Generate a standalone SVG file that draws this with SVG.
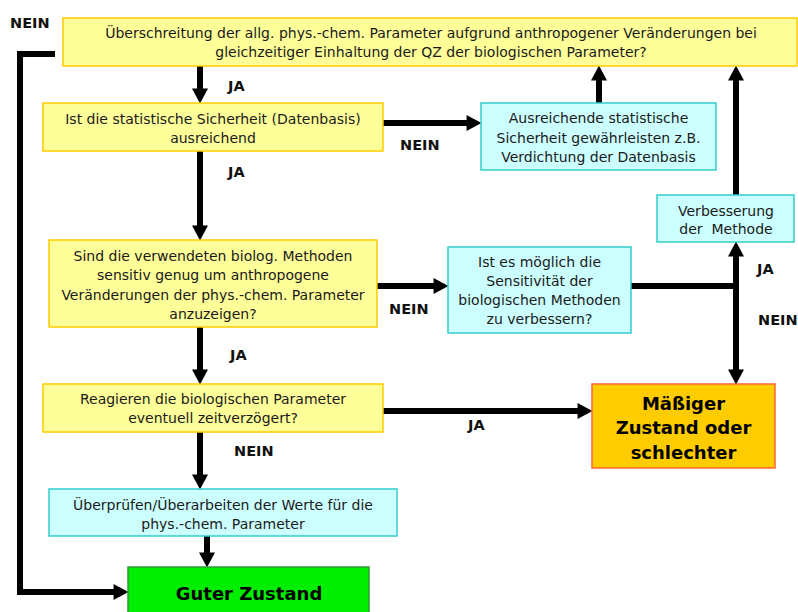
<svg xmlns="http://www.w3.org/2000/svg" width="798" height="612" viewBox="0 0 798 612">
<style>
.y{fill:#FFFF99;stroke:#FFCC00;stroke-width:1.5}
.c{fill:#CCFFFF;stroke:#33CCCC;stroke-width:1.5}
.o{fill:#FFCC00;stroke:#FF6633;stroke-width:1.5}
.g{fill:#00EE00;stroke:#339933;stroke-width:1.5}
.t{font-family:"DejaVu Sans",sans-serif;font-size:14px;fill:#1a1a1a;text-anchor:middle}
.b{font-family:"DejaVu Sans",sans-serif;font-weight:bold;font-size:18px;fill:#000;text-anchor:middle}
.l{font-family:"DejaVu Sans",sans-serif;font-weight:bold;font-size:14.5px;fill:#111}
.w{fill:none;stroke:#000;stroke-width:6}
</style>
<defs>
<marker id="ah" markerUnits="userSpaceOnUse" markerWidth="16" markerHeight="16" viewBox="0 0 14 15" refX="7" refY="7.5" orient="auto">
<path d="M0,0 L14,7.5 L0,15 z" fill="#000"/>
</marker>
</defs>
<rect width="798" height="612" fill="#fff"/>
<g id="connectors">
<line class="w" x1="200" y1="66" x2="200" y2="96" marker-end="url(#ah)"/>
<line class="w" x1="200" y1="151" x2="200" y2="233" marker-end="url(#ah)"/>
<line class="w" x1="200" y1="327" x2="200" y2="377" marker-end="url(#ah)"/>
<line class="w" x1="200" y1="432" x2="200" y2="482" marker-end="url(#ah)"/>
<line class="w" x1="207" y1="536" x2="207" y2="560" marker-end="url(#ah)"/>
<line class="w" x1="383" y1="123" x2="474" y2="123" marker-end="url(#ah)"/>
<line class="w" x1="599" y1="103" x2="599" y2="73" marker-end="url(#ah)"/>
<line class="w" x1="736" y1="195" x2="736" y2="73" marker-end="url(#ah)"/>
<line class="w" x1="377" y1="286" x2="441" y2="286" marker-end="url(#ah)"/>
<polyline class="w" points="631,286 736,286"/>
<line class="w" x1="736" y1="289" x2="736" y2="249" marker-end="url(#ah)"/>
<line class="w" x1="736" y1="283" x2="736" y2="377" marker-end="url(#ah)"/>
<line class="w" x1="383" y1="411" x2="585" y2="411" marker-end="url(#ah)"/>
<polyline class="w" points="55,54 20,54 20,592 121,592" marker-end="url(#ah)"/>
<text class="l" x="10" y="28">NEIN</text>
<text class="l" x="228" y="91">JA</text>
<text class="l" x="400" y="150">NEIN</text>
<text class="l" x="228" y="177">JA</text>
<text class="l" x="389" y="314">NEIN</text>
<text class="l" x="757" y="274">JA</text>
<text class="l" x="758" y="325">NEIN</text>
<text class="l" x="230" y="360">JA</text>
<text class="l" x="468" y="430">JA</text>
<text class="l" x="234" y="456">NEIN</text>
</g>
<g id="n1">
<rect class="y" x="63" y="18" width="734" height="48"/>
<text class="t" x="431" y="38">Überschreitung der allg. phys.-chem. Parameter aufgrund anthropogener Veränderungen bei</text>
<text class="t" x="431" y="57">gleichzeitiger Einhaltung der QZ der biologischen Parameter?</text>
</g>
<g id="n2">
<rect class="y" x="43" y="103" width="340" height="48"/>
<text class="t" x="213" y="124">Ist die statistische Sicherheit (Datenbasis)</text>
<text class="t" x="213" y="143">ausreichend</text>
</g>
<g id="n3">
<rect class="c" x="481" y="103" width="235" height="67"/>
<text class="t" x="598.5" y="123">Ausreichende statistische</text>
<text class="t" x="598.5" y="142.5">Sicherheit gewährleisten z.B.</text>
<text class="t" x="598.5" y="162">Verdichtung der Datenbasis</text>
</g>
<g id="n4">
<rect class="c" x="657" y="195" width="137" height="47"/>
<text class="t" x="726" y="216">Verbesserung</text>
<text class="t" x="726" y="234">der&#160; Methode</text>
</g>
<g id="n5">
<rect class="y" x="49" y="240" width="328" height="87"/>
<text class="t" x="213" y="261">Sind die verwendeten biolog. Methoden</text>
<text class="t" x="213" y="280">sensitiv genug um anthropogene</text>
<text class="t" x="213" y="299.5">Veränderungen der phys.-chem. Parameter</text>
<text class="t" x="213" y="319">anzuzeigen?</text>
</g>
<g id="n6">
<rect class="c" x="448" y="247" width="183" height="86"/>
<text class="t" x="539.5" y="267">Ist es möglich die</text>
<text class="t" x="539.5" y="286">Sensitivität der</text>
<text class="t" x="539.5" y="305">biologischen Methoden</text>
<text class="t" x="539.5" y="324">zu verbessern?</text>
</g>
<g id="n7">
<rect class="y" x="43" y="384" width="340" height="48"/>
<text class="t" x="213" y="404">Reagieren die biologischen Parameter</text>
<text class="t" x="213" y="423">eventuell zeitverzögert?</text>
</g>
<g id="n8">
<rect class="o" x="592" y="384" width="183" height="84"/>
<text class="b" x="683.5" y="409.5">Mäßiger</text>
<text class="b" x="683.5" y="434">Zustand oder</text>
<text class="b" x="683.5" y="458.5">schlechter</text>
</g>
<g id="n9">
<rect class="c" x="49" y="489" width="348" height="47"/>
<text class="t" x="223" y="510">Überprüfen/Überarbeiten der Werte für die</text>
<text class="t" x="223" y="529">phys.-chem. Parameter</text>
</g>
<g id="n10">
<rect class="g" x="128" y="567" width="241" height="50"/>
<text class="b" x="249" y="599.5">Guter Zustand</text>
</g>
</svg>
